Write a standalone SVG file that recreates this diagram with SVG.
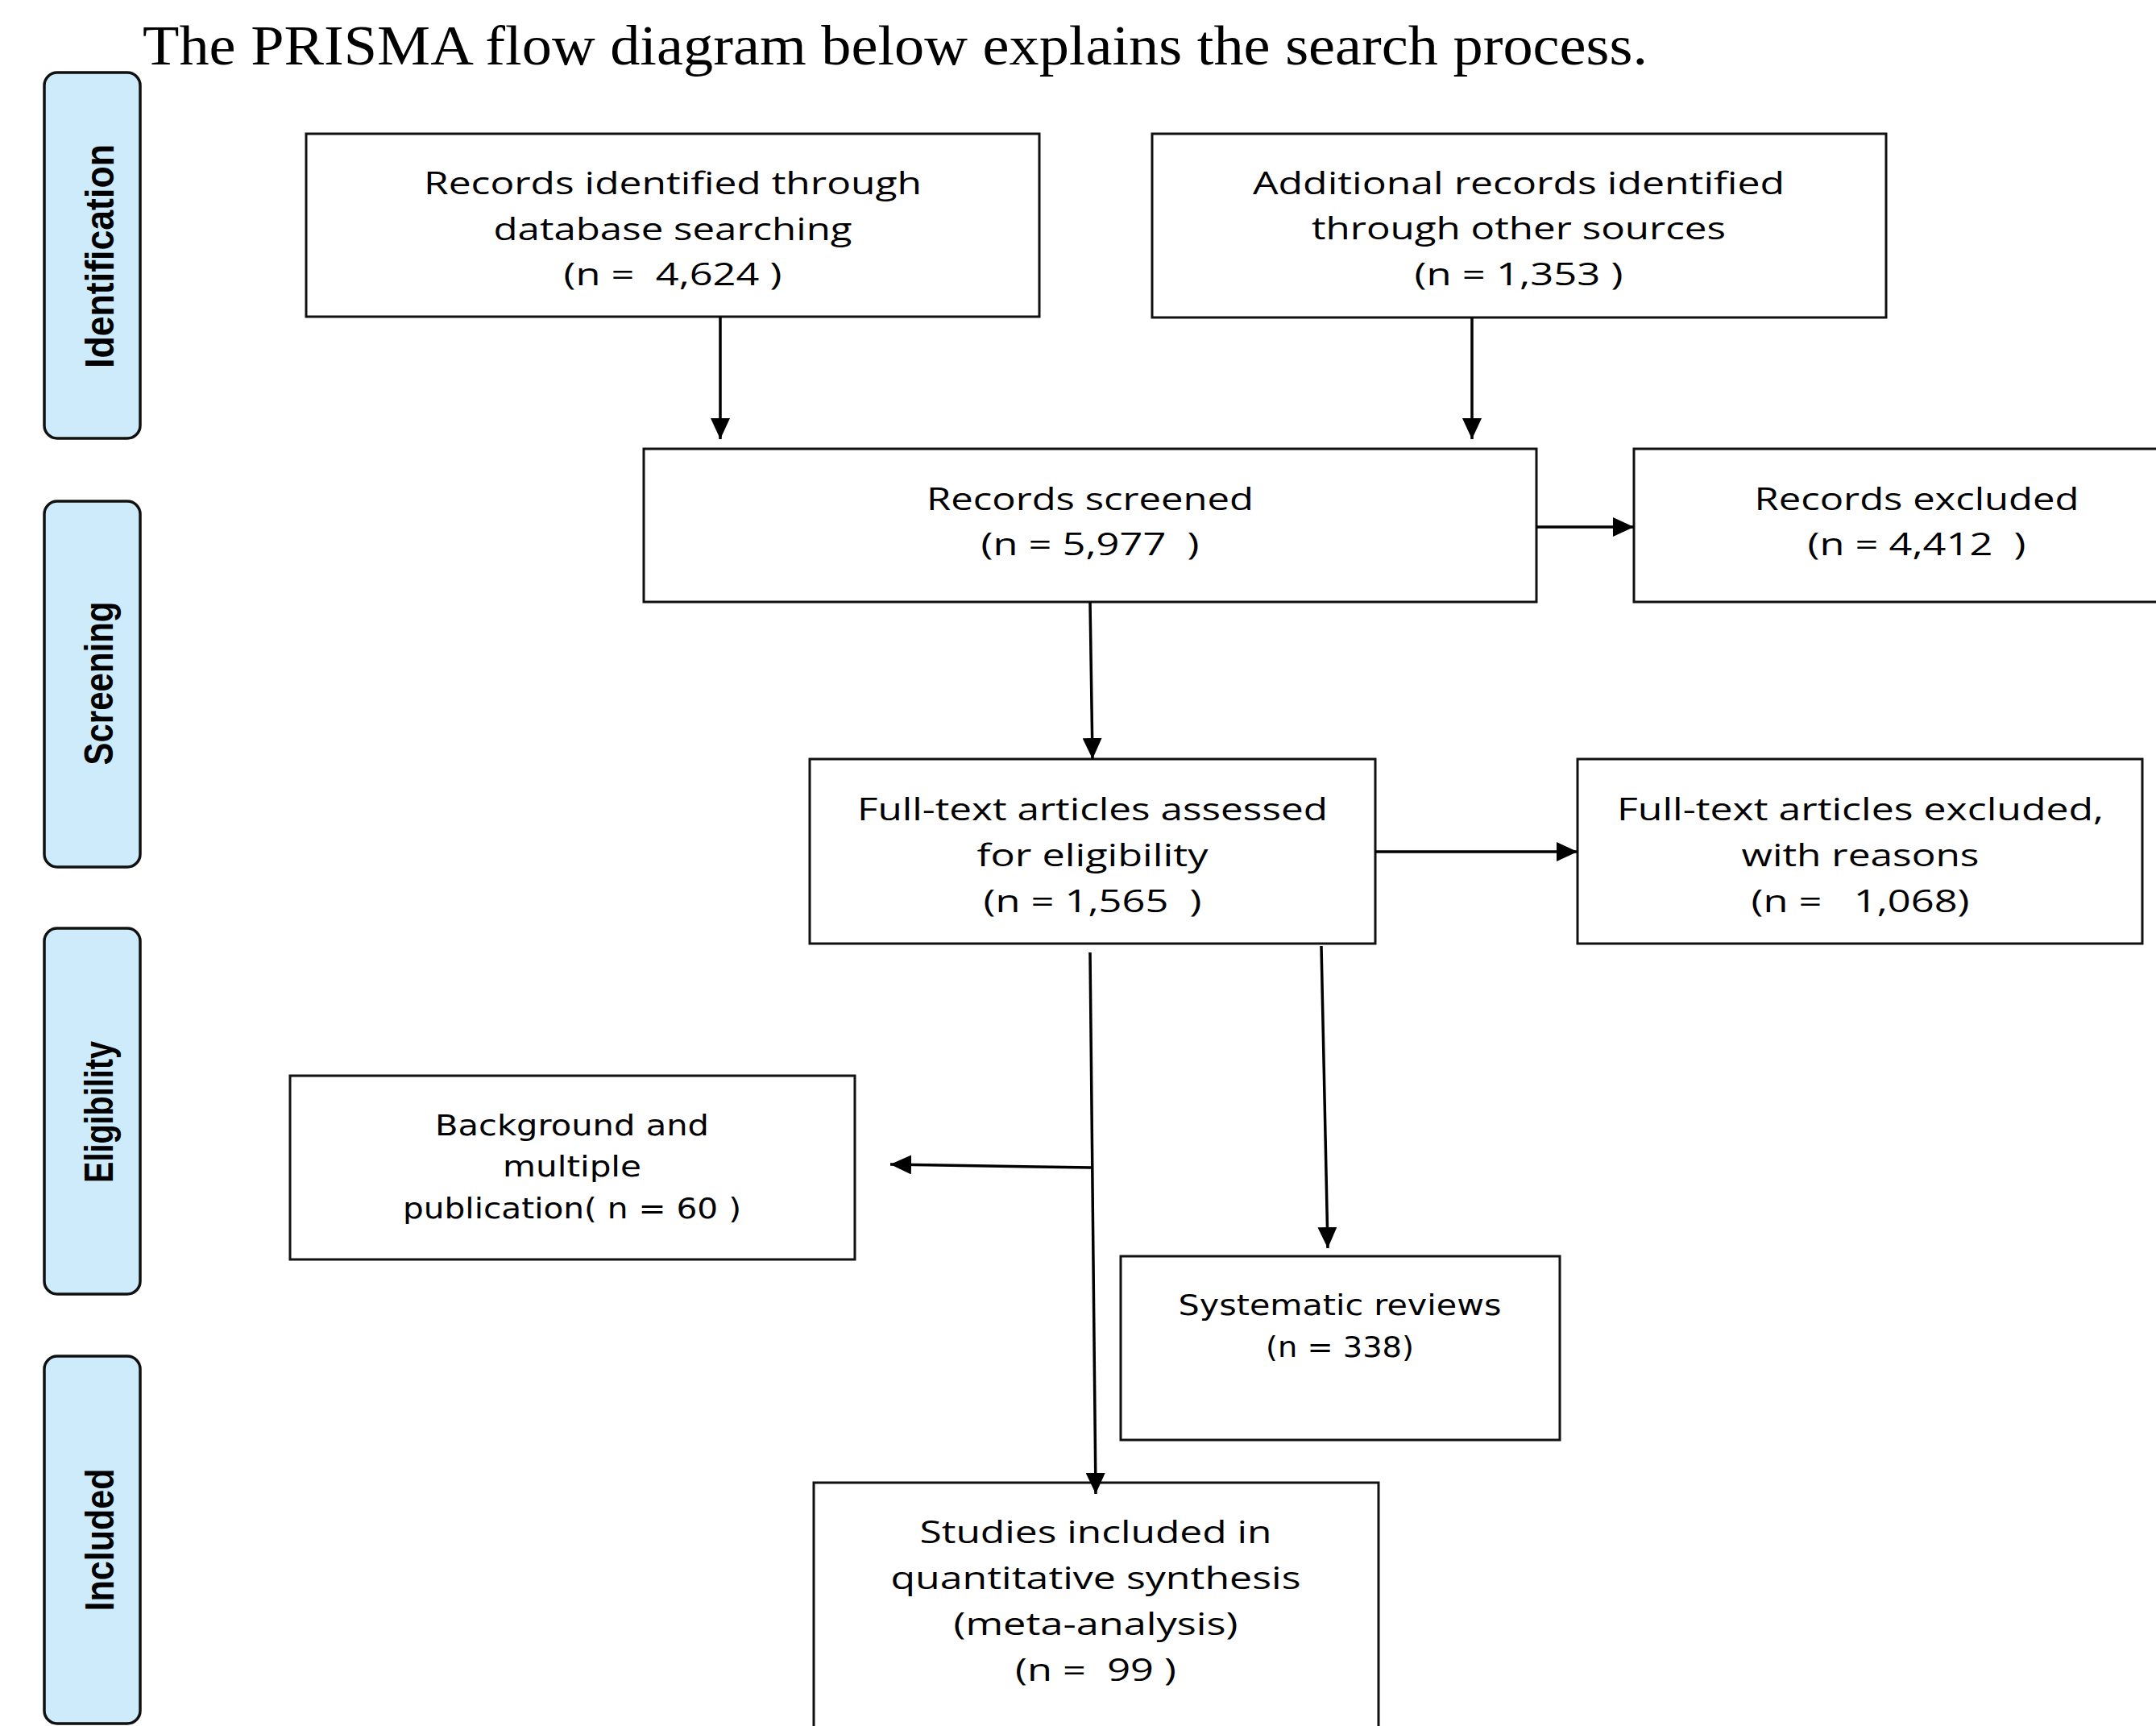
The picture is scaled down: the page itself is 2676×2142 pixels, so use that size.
<svg xmlns="http://www.w3.org/2000/svg" width="2676" height="2142" viewBox="0 0 2676 2142">
<style>
.bg{fill:#ffffff}
.box{fill:#ffffff;stroke:#111111;stroke-width:3}
.lane{fill:#CDEBFB;stroke:#111111;stroke-width:3.5}
.t{font-family:"Open Sans","Noto Sans","Liberation Sans",sans-serif;font-size:38px;fill:#000;text-anchor:middle}
.tv{font-family:"DejaVu Sans","Liberation Sans",sans-serif;font-size:36px;fill:#000;text-anchor:middle}
.lt{font-family:"Liberation Sans","Noto Sans",sans-serif;font-weight:bold;font-size:50px;fill:#000;text-anchor:middle}
.title{font-family:"Liberation Serif","Times New Roman",serif;font-size:70px;fill:#000}
.c{stroke:#000;stroke-width:3.5;fill:none}
</style>
<defs>
<marker id="ah" viewBox="0 0 26 24" refX="26" refY="12" markerWidth="26" markerHeight="24" markerUnits="userSpaceOnUse" orient="auto">
<path d="M0,0 L26,12 L0,24 Z" fill="#000"/>
</marker>
</defs>
<rect class="bg" x="0" y="0" width="2676" height="2142"/>
<text class="title" x="177" y="80" textLength="1868" lengthAdjust="spacingAndGlyphs">The PRISMA flow diagram below explains the search process.</text>

<g id="lane-identification">
<rect class="lane" x="55" y="90" width="119" height="454" rx="16"/>
<text class="lt" transform="translate(141,318) rotate(-90)" textLength="278" lengthAdjust="spacingAndGlyphs">Identification</text>
</g>
<g id="lane-screening">
<rect class="lane" x="55" y="622" width="119" height="454" rx="16"/>
<text class="lt" transform="translate(140,848) rotate(-90)" textLength="203" lengthAdjust="spacingAndGlyphs">Screening</text>
</g>
<g id="lane-eligibility">
<rect class="lane" x="55" y="1152" width="119" height="454" rx="16"/>
<text class="lt" transform="translate(140,1380) rotate(-90)" textLength="176" lengthAdjust="spacingAndGlyphs">Eligibility</text>
</g>
<g id="lane-included">
<rect class="lane" x="55" y="1683" width="119" height="456" rx="16"/>
<text class="lt" transform="translate(141,1911) rotate(-90)" textLength="177" lengthAdjust="spacingAndGlyphs">Included</text>
</g>

<g id="box-database">
<rect class="box" x="380" y="166" width="910" height="227"/>
<text class="t" x="835" y="241" textLength="618" lengthAdjust="spacingAndGlyphs">Records identified through</text>
<text class="t" x="835" y="298" textLength="445" lengthAdjust="spacingAndGlyphs">database searching</text>
<text class="t" x="835" y="354" textLength="271" lengthAdjust="spacingAndGlyphs" xml:space="preserve">(n =  4,624 )</text>
</g>
<g id="box-other">
<rect class="box" x="1430" y="166" width="911" height="228"/>
<text class="t" x="1885" y="241" textLength="660" lengthAdjust="spacingAndGlyphs">Additional records identified</text>
<text class="t" x="1885" y="297" textLength="514" lengthAdjust="spacingAndGlyphs">through other sources</text>
<text class="t" x="1885" y="354" textLength="259" lengthAdjust="spacingAndGlyphs">(n = 1,353 )</text>
</g>
<g id="box-screened">
<rect class="box" x="799" y="557" width="1108" height="190"/>
<text class="t" x="1353" y="633" textLength="406" lengthAdjust="spacingAndGlyphs">Records screened</text>
<text class="t" x="1353" y="689" textLength="271" lengthAdjust="spacingAndGlyphs" xml:space="preserve">(n = 5,977  )</text>
</g>
<g id="box-excluded">
<rect class="box" x="2028" y="557" width="700" height="190"/>
<text class="t" x="2379" y="633" textLength="403" lengthAdjust="spacingAndGlyphs">Records excluded</text>
<text class="t" x="2379" y="689" textLength="271" lengthAdjust="spacingAndGlyphs" xml:space="preserve">(n = 4,412  )</text>
</g>
<g id="box-fulltext">
<rect class="box" x="1005" y="942" width="702" height="229"/>
<text class="t" x="1356" y="1018" textLength="584" lengthAdjust="spacingAndGlyphs">Full-text articles assessed</text>
<text class="t" x="1356" y="1075" textLength="287" lengthAdjust="spacingAndGlyphs">for eligibility</text>
<text class="t" x="1356" y="1132" textLength="271" lengthAdjust="spacingAndGlyphs" xml:space="preserve">(n = 1,565  )</text>
</g>
<g id="box-fulltext-excluded">
<rect class="box" x="1958" y="942" width="701" height="229"/>
<text class="t" x="2309" y="1018" textLength="604" lengthAdjust="spacingAndGlyphs">Full-text articles excluded,</text>
<text class="t" x="2309" y="1075" textLength="295" lengthAdjust="spacingAndGlyphs">with reasons</text>
<text class="t" x="2309" y="1132" textLength="271" lengthAdjust="spacingAndGlyphs" xml:space="preserve">(n =   1,068)</text>
</g>
<g id="box-background">
<rect class="box" x="360" y="1335" width="701" height="228"/>
<text class="tv" x="710" y="1409" textLength="340" lengthAdjust="spacingAndGlyphs">Background and</text>
<text class="tv" x="710" y="1460" textLength="172" lengthAdjust="spacingAndGlyphs">multiple</text>
<text class="tv" x="710" y="1512" textLength="420" lengthAdjust="spacingAndGlyphs">publication( n = 60 )</text>
</g>
<g id="box-systematic">
<rect class="box" x="1391" y="1559" width="545" height="228"/>
<text class="tv" x="1663" y="1632" textLength="401" lengthAdjust="spacingAndGlyphs">Systematic reviews</text>
<text class="tv" x="1663" y="1684" textLength="184" lengthAdjust="spacingAndGlyphs">(n = 338)</text>
</g>
<g id="box-included">
<rect class="box" x="1010" y="1840" width="701" height="320"/>
<text class="t" x="1360" y="1915" textLength="437" lengthAdjust="spacingAndGlyphs">Studies included in</text>
<text class="t" x="1360" y="1972" textLength="509" lengthAdjust="spacingAndGlyphs">quantitative synthesis</text>
<text class="t" x="1360" y="2029" textLength="353" lengthAdjust="spacingAndGlyphs">(meta-analysis)</text>
<text class="t" x="1360" y="2086" textLength="200" lengthAdjust="spacingAndGlyphs" xml:space="preserve">(n =  99 )</text>
</g>

<g id="connectors">
<line class="c" x1="894" y1="393" x2="894" y2="545" marker-end="url(#ah)"/>
<line class="c" x1="1827" y1="394" x2="1827" y2="545" marker-end="url(#ah)"/>
<line class="c" x1="1907" y1="654" x2="2028" y2="654" marker-end="url(#ah)"/>
<line class="c" x1="1353" y1="747" x2="1356" y2="942" marker-end="url(#ah)"/>
<line class="c" x1="1707" y1="1057" x2="1958" y2="1057" marker-end="url(#ah)"/>
<line class="c" x1="1353" y1="1182" x2="1360" y2="1854" marker-end="url(#ah)"/>
<line class="c" x1="1355" y1="1449" x2="1105" y2="1445" marker-end="url(#ah)"/>
<line class="c" x1="1640" y1="1174" x2="1648" y2="1549" marker-end="url(#ah)"/>
</g>
</svg>
